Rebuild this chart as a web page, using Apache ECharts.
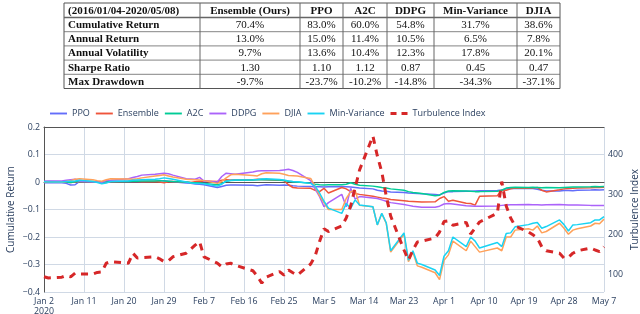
<!DOCTYPE html>
<html><head><meta charset="utf-8">
<script src="https://cdn.jsdelivr.net/npm/echarts@6/dist/echarts.min.js"></script>
<style>html,body{margin:0;padding:0;background:#fff}#c{width:640px;height:314px}</style>
</head><body><div id="c"></div>
<script>
const dates = ['2020-01-02','2020-01-03','2020-01-06','2020-01-07','2020-01-08','2020-01-09','2020-01-10','2020-01-13','2020-01-14','2020-01-15','2020-01-16','2020-01-17','2020-01-21','2020-01-22','2020-01-23','2020-01-24','2020-01-27','2020-01-28','2020-01-29','2020-01-30','2020-01-31',
'2020-02-03','2020-02-04','2020-02-05','2020-02-06','2020-02-07','2020-02-10','2020-02-11','2020-02-12','2020-02-13','2020-02-14','2020-02-18','2020-02-19','2020-02-20','2020-02-21','2020-02-24','2020-02-25','2020-02-26','2020-02-27','2020-02-28',
'2020-03-02','2020-03-03','2020-03-04','2020-03-05','2020-03-06','2020-03-09','2020-03-10','2020-03-11','2020-03-12','2020-03-13','2020-03-16','2020-03-17','2020-03-18','2020-03-19','2020-03-20','2020-03-23','2020-03-24','2020-03-25','2020-03-26','2020-03-27','2020-03-30','2020-03-31',
'2020-04-01','2020-04-02','2020-04-03','2020-04-06','2020-04-07','2020-04-08','2020-04-09','2020-04-13','2020-04-14','2020-04-15','2020-04-16','2020-04-17','2020-04-20','2020-04-21','2020-04-22','2020-04-23','2020-04-24','2020-04-27','2020-04-28','2020-04-29','2020-04-30',
'2020-05-01','2020-05-04','2020-05-05','2020-05-06','2020-05-07'];

const ppo = [-0.003,-0.003,-0.003,-0.005,-0.011,-0.01,0.002,0,0.001,-0.001,
0,0.002,0.003,0.002,0.003,0.002,0.003,0.004,0.005,0.003,
0.001,-0.004,-0.005,-0.007,-0.008,-0.01,-0.02,-0.016,-0.012,-0.011,
-0.011,-0.012,-0.014,-0.012,-0.01,-0.012,-0.011,-0.012,-0.014,-0.015,
-0.016,-0.017,-0.017,-0.018,-0.017,-0.016,-0.017,-0.018,-0.02,-0.022,
-0.025,-0.03,-0.033,-0.034,-0.036,-0.038,-0.04,-0.041,-0.042,-0.043,
-0.045,-0.047,-0.04,-0.035,-0.035,-0.034,-0.034,-0.033,-0.032,-0.031,
-0.029,-0.025,-0.024,-0.023,-0.024,-0.024,-0.026,-0.03,-0.033,-0.033,
-0.031,-0.031,-0.032,-0.03,-0.029,-0.028,-0.029,-0.028];

const ensemble = [0,0,0.001,0,-0.002,0,0.002,0.001,0,0.001,
0.002,0.001,0.002,0.003,0.002,0.001,0.002,0,-0.003,0.001,
0.002,0,-0.002,0.001,0.003,0.004,0.002,0.006,0.008,0.007,
0.008,0.008,0.01,0.009,0.008,0.006,0.005,-0.01,-0.02,-0.022,
-0.023,-0.03,-0.035,-0.023,-0.04,-0.02,-0.025,-0.035,-0.042,-0.045,
-0.052,-0.055,-0.058,-0.06,-0.064,-0.068,-0.07,-0.071,-0.072,-0.073,
-0.072,-0.06,-0.053,-0.07,-0.066,-0.077,-0.078,-0.084,-0.052,-0.05,
-0.03,-0.03,-0.025,-0.022,-0.023,-0.022,-0.02,-0.03,-0.036,-0.028,
-0.025,-0.024,-0.023,-0.022,-0.021,-0.02,-0.02,-0.019];

const a2c = [0.002,0.002,0.001,0,-0.002,0.001,0.003,0.002,0.001,0,
0.001,0.002,0.002,0.003,0.003,0.004,0.004,0.005,0.004,0.003,
0.002,0,-0.002,-0.003,-0.004,-0.005,-0.01,-0.006,0.003,0.005,
0.006,0.007,0.008,0.009,0.008,0.007,0.005,0.003,0.001,0,
-0.005,-0.008,-0.01,-0.011,-0.01,-0.01,-0.008,-0.003,-0.008,-0.012,
-0.015,-0.017,-0.02,-0.022,-0.025,-0.03,-0.035,-0.038,-0.04,-0.042,
-0.05,-0.048,-0.038,-0.033,-0.032,-0.033,-0.034,-0.035,-0.035,-0.034,
-0.03,-0.022,-0.02,-0.019,-0.02,-0.019,-0.02,-0.021,-0.02,-0.021,
-0.02,-0.019,-0.018,-0.018,-0.017,-0.016,-0.017,-0.016];

const ddpg = [0.003,0.004,0.004,0.006,0.008,0.01,0.003,0.001,0,-0.001,
0.005,0.006,0.012,0.016,0.02,0.025,0.028,0.03,0.032,0.03,
0.025,0.012,0.011,0.01,0.017,0.003,0,0.02,0.032,0.03,
0.028,0.036,0.04,0.041,0.041,0.042,0.044,0.046,0.042,0.035,
0.005,-0.025,-0.053,-0.09,-0.075,-0.045,-0.09,-0.023,-0.062,-0.053,
-0.058,-0.06,-0.065,-0.07,-0.075,-0.082,-0.085,-0.088,-0.09,-0.092,
-0.092,-0.088,-0.08,-0.078,-0.08,-0.086,-0.087,-0.088,-0.088,-0.087,
-0.085,-0.084,-0.083,-0.083,-0.082,-0.083,-0.083,-0.084,-0.083,-0.082,
-0.083,-0.084,-0.084,-0.084,-0.085,-0.085,-0.085,-0.085];

const djia = [0.001,0,-0.001,0.002,0.005,0.01,0.012,0.008,0.005,0.003,
0.008,0.012,0.011,0.01,0.012,0.015,0.022,0.024,0.026,0.022,
0.018,0.01,0.009,0.008,0.007,0.005,-0.005,0.002,0.015,0.026,
0.028,0.024,0.022,0.03,0.034,0.032,0.028,0.024,0.023,0.022,
0.013,-0.017,-0.05,-0.075,-0.1,-0.1,-0.06,-0.035,-0.03,-0.085,
-0.09,-0.156,-0.115,-0.15,-0.255,-0.19,-0.29,-0.255,-0.305,-0.31,
-0.33,-0.355,-0.285,-0.265,-0.215,-0.25,-0.215,-0.235,-0.255,-0.24,
-0.25,-0.2,-0.2,-0.175,-0.17,-0.175,-0.16,-0.185,-0.18,-0.15,
-0.168,-0.19,-0.175,-0.17,-0.16,-0.15,-0.152,-0.135];

const minVariance = [0.001,0,0,0.002,0.003,0.004,0.006,0.002,-0.002,-0.006,
-0.004,0.002,0.004,0.006,0.007,0.008,0.01,0.012,0.015,0.013,
0.01,0,-0.004,-0.005,-0.005,-0.006,-0.015,-0.008,0.003,0.006,
0.007,0.008,0.009,0.011,0.012,0.009,0.007,0.004,0.002,0.001,
-0.005,-0.015,-0.04,-0.07,-0.095,-0.114,-0.078,-0.096,-0.065,-0.084,
-0.09,-0.156,-0.114,-0.148,-0.25,-0.185,-0.284,-0.25,-0.295,-0.3,
-0.32,-0.34,-0.27,-0.25,-0.2,-0.235,-0.2,-0.215,-0.24,-0.22,
-0.235,-0.187,-0.185,-0.163,-0.155,-0.15,-0.147,-0.168,-0.162,-0.138,
-0.155,-0.178,-0.156,-0.155,-0.148,-0.138,-0.138,-0.126];

const turbulence = [93,90,92,96,93,102,100,100,104,105,
127,131,127,152,140,141,143,138,131,133,
143,152,162,172,181,143,127,118,125,127,
122,108,95,77,92,106,97,110,103,97,
125,145,181,213,206,220,240,270,315,360,
445,395,355,295,245,160,135,160,180,182,
190,205,231,233,222,229,200,215,230,252,
331,270,240,220,205,198,190,168,158,152,
140,142,152,158,165,160,156,168];

const xTickLabels = ['Jan 2\n2020','Jan 11','Jan 20','Jan 29','Feb 7','Feb 16','Feb 25','Mar 5','Mar 14','Mar 23','Apr 1','Apr 10','Apr 19','Apr 28','May 7'];

const tableHeader = ['(2016/01/04-2020/05/08)','Ensemble (Ours)','PPO','A2C','DDPG','Min-Variance','DJIA'];
const rowLabels = ['Cumulative Return','Annual Return','Annual Volatility','Sharpe Ratio','Max Drawdown'];
const ensembleStats = ['70.4%','13.0%','9.7%','1.30','-9.7%'];
const ppoStats = ['83.0%','15.0%','13.6%','1.10','-23.7%'];
const a2cStats = ['60.0%','11.4%','10.4%','1.12','-10.2%'];
const ddpgStats = ['54.8%','10.5%','12.3%','0.87','-14.8%'];
const minVarStats = ['31.7%','6.5%','17.8%','0.45','-34.3%'];
const djiaStats = ['38.6%','7.8%','20.1%','0.47','-37.1%'];

const seriesNames = ['PPO','Ensemble','A2C','DDPG','DJIA','Min-Variance','Turbulence Index'];

const DAY = 86400000;
const t0 = Date.parse(dates[0]);
const dayNum = dates.map(d => Math.round((Date.parse(d) - t0) / DAY));
const pair = arr => arr.map((v, i) => [dayNum[i], v]);

// ---- table graphic ----
const colEdges = [64, 200, 300, 343, 387, 434, 517, 560];
const rowEdges = [3, 17.5, 31.7, 45.9, 60.1, 74.3, 88.5];
const serif = '"Liberation Serif", "DejaVu Serif", serif';
const statCols = [ensembleStats, ppoStats, a2cStats, ddpgStats, minVarStats, djiaStats];
const g = [];
g.push({type:'rect', shape:{x:colEdges[0], y:rowEdges[0], width:colEdges[7]-colEdges[0], height:rowEdges[6]-rowEdges[0]}, style:{fill:'none', stroke:'#555', lineWidth:1}});
for (let i = 1; i < colEdges.length - 1; i++) {
  g.push({type:'line', shape:{x1:colEdges[i], y1:rowEdges[0], x2:colEdges[i], y2:rowEdges[6]}, style:{stroke:'#666', lineWidth:1}});
}
for (let j = 1; j < rowEdges.length - 1; j++) {
  g.push({type:'line', shape:{x1:colEdges[0], y1:rowEdges[j], x2:colEdges[7], y2:rowEdges[j]}, style:{stroke:'#666', lineWidth: j === 1 ? 1.6 : 0.8}});
}
function cellText(txt, c, r, bold) {
  const cy = (rowEdges[r] + rowEdges[r+1]) / 2 + 0.5;
  const left = c === 0;
  g.push({type:'text', style:{text:txt, x: left ? colEdges[0] + 4 : (colEdges[c] + colEdges[c+1]) / 2, y: cy,
    textAlign: left ? 'left' : 'center', textVerticalAlign:'middle',
    font: (bold ? 'bold ' : '') + '11px ' + serif, fill:'#111'}});
}
tableHeader.forEach((h, c) => cellText(h, c, 0, true));
rowLabels.forEach((l, r) => {
  cellText(l, 0, r + 1, true);
  statCols.forEach((col, c) => cellText(col[r], c + 1, r + 1, false));
});

const sans = '"Open Sans", "Noto Sans", sans-serif';
const txtColor = '#2a3f5f';
const gridColor = '#d0d9e5';
function lineSeries(name, data, color) {
  return {name, type:'line', data: pair(data), xAxisIndex:0, yAxisIndex:0, symbol:'none', smooth:false,
    lineStyle:{color, width:1.5}, itemStyle:{color}, emphasis:{disabled:true}, z:3};
}
const solidIcon = 'path://M0,0.5h18v2h-18z';
const dashIcon = 'path://M0,0h6v3h-6zM11,0h6v3h-6z';

const chart = echarts.init(document.getElementById('c'), null, {renderer:'canvas'});
chart.setOption({
  animation:false,
  backgroundColor:'#fff',
  textStyle:{fontFamily:sans},
  graphic: g,
  legend:{
    top:104, left:45, itemWidth:17, itemHeight:3, itemGap:6,
    textStyle:{fontFamily:sans, fontSize:9, color:txtColor},
    data: seriesNames.map(n => ({name:n, icon: n === 'Turbulence Index' ? dashIcon : solidIcon}))
  },
  grid:{left:44, right:36, top:127, bottom:22, containLabel:false, outerBoundsMode:'none'},
  xAxis:[{
    type:'value', min:0, max:126, interval:9,
    axisLine:{show:true, lineStyle:{color:'#555', width:1}},
    axisTick:{show:false},
    splitLine:{show:true, lineStyle:{color:gridColor, width:1}},
    axisLabel:{color:txtColor, fontSize:8.8, fontFamily:sans, margin:4, lineHeight:10,
      formatter: v => xTickLabels[Math.round(v / 9)] || ''}
  },{
    type:'value', min:0, max:126, position:'top',
    axisLine:{show:true, lineStyle:{color:'#555', width:1}},
    axisTick:{show:false}, axisLabel:{show:false}, splitLine:{show:false}
  }],
  yAxis:[{
    type:'value', min:-0.4, max:0.2, interval:0.1,
    name:'Cumulative Return', nameLocation:'middle', nameGap:28, nameRotate:90, nameMoveOverlap:false,
    nameTextStyle:{color:txtColor, fontSize:10, fontFamily:sans},
    axisLine:{show:false}, axisTick:{show:false},
    splitLine:{show:true, lineStyle:{color:gridColor, width:1}},
    axisLabel:{color:txtColor, fontSize:8.8, fontFamily:sans, margin:4,
      formatter: v => { const r = Math.round(v * 10) / 10; return r === 0 ? '0' : (r < 0 ? '\u2212' + Math.abs(r) : String(r)); }}
  },{
    type:'value', min:55, max:467.5, position:'right',
    name:'Turbulence Index', nameLocation:'middle', nameGap:26, nameRotate:90, nameMoveOverlap:false,
    nameTextStyle:{color:txtColor, fontSize:10, fontFamily:sans},
    axisLine:{show:true, lineStyle:{color:'#555', width:1}}, axisTick:{show:false},
    splitLine:{show:false},
    axisLabel:{color:txtColor, fontSize:8.8, fontFamily:sans, margin:4,
      formatter: v => (Math.abs(v % 100) < 1e-6 ? String(v) : '')}
  }],
  series:[
    lineSeries('PPO', ppo, '#636efa'),
    lineSeries('Ensemble', ensemble, '#ef553b'),
    lineSeries('A2C', a2c, '#00cc96'),
    lineSeries('DDPG', ddpg, '#ab63fa'),
    lineSeries('DJIA', djia, '#ffa15a'),
    lineSeries('Min-Variance', minVariance, '#19d3f3'),
    {name:'Turbulence Index', type:'line', data: pair(turbulence), xAxisIndex:0, yAxisIndex:1, symbol:'none',
      lineStyle:{color:'#d62728', width:3, type:[7,6]}, itemStyle:{color:'#d62728'}, emphasis:{disabled:true}, z:4}
  ]
});
</script></body></html>
